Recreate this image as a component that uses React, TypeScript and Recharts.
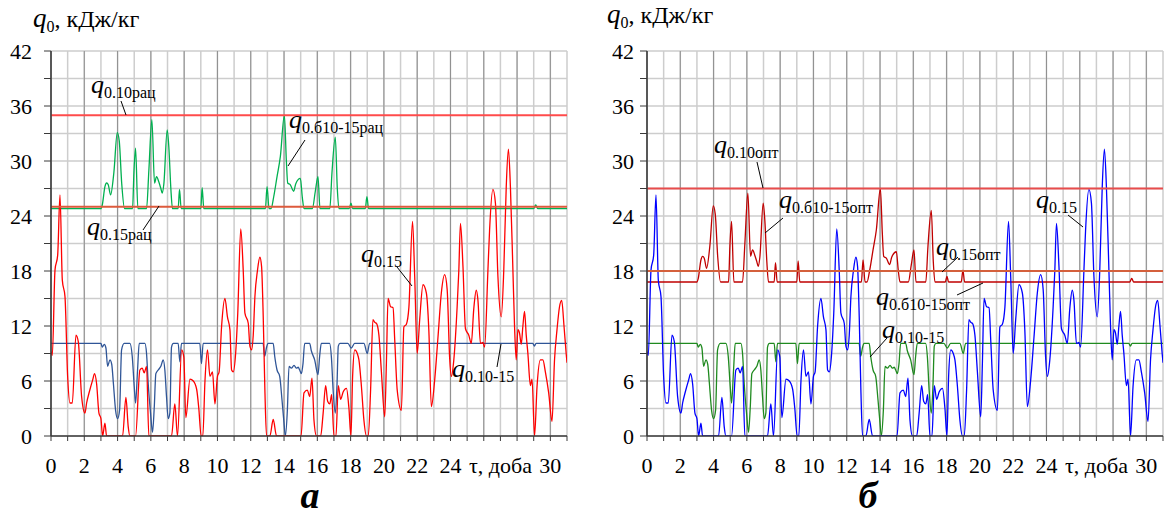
import React from 'react'
import { LineChart, Line, XAxis, YAxis, CartesianGrid, ReferenceLine } from 'recharts'

// доба (day) -> q0, кДж/кг ; точки
const dayTicks = [0, 1, 2, 3, 4, 5, 6, 7, 8, 9, 10, 11, 12, 13, 14, 15, 16, 17, 18, 19, 20, 21, 22, 23, 24, 25, 26, 27, 28, 29, 30, 31]
const evenDays = [0, 2, 4, 6, 8, 10, 12, 14, 16, 18, 20, 22, 24, 26, 28, 30]
const qTicks = [0, 3, 6, 9, 12, 15, 18, 21, 24, 27, 30, 33, 36, 39, 42]
const dayMax = 31

// q0.15 (same in both panels)
const q015: [number, number][] = [
  [0, 9.2], [0.08, 8.8], [0.24, 18.1], [0.4, 19.7], [0.54, 26.3], [0.68, 17], [0.84, 15.2], [1.0, 6.5], [1.14, 3.6],
  [1.28, 3.6], [1.5, 11], [1.64, 10.3], [1.84, 4.3], [2.04, 2.5], [2.14, 3.6], [2.3, 4.8], [2.5, 6.1], [2.62, 6.8],
  [2.74, 5.7], [2.88, 2.5], [3.0, 1.9], [3.1, 0], [3.24, 1.4], [3.34, 0], [4.3, 0], [4.5, 4.2], [4.64, 1], [4.74, 0],
  [5.08, 0], [5.34, 7.2], [5.48, 7.4], [5.6, 6.9], [5.74, 7.6], [5.88, 0], [7.24, 0], [7.44, 3.5], [7.6, 0],
  [7.85, 9.4], [7.98, 8.6], [8.1, 2], [8.35, 6.2], [8.55, 6], [8.75, 5.1], [8.88, 3], [9.02, 0], [9.12, 0],
  [9.25, 6], [9.4, 9.4], [9.55, 6.5], [9.7, 7], [9.85, 3.5], [10.0, 6.5], [10.1, 7], [10.25, 12], [10.45, 15],
  [10.6, 13], [10.75, 11.6], [10.85, 7.2], [10.95, 7], [11.1, 9.2], [11.22, 13.4], [11.4, 22.6], [11.55, 18],
  [11.65, 13.4], [11.85, 12.3], [11.95, 9.8], [12.05, 9.4], [12.15, 11], [12.25, 15.2], [12.4, 18], [12.55, 19.5],
  [12.65, 18.5], [12.75, 13], [12.85, 5], [12.95, 0], [13.15, 0], [13.35, 1.8], [13.55, 0], [15.02, 0], [15.2, 4.7],
  [15.4, 5], [15.54, 4.3], [15.68, 6.3], [15.8, 1.7], [15.95, 0], [16.2, 0], [16.35, 2.5], [16.5, 5.5], [16.62, 3.8],
  [16.75, 3.5], [16.86, 4.5], [17.0, 0], [17.12, 0], [17.26, 5.5], [17.4, 4], [17.55, 4.8], [17.75, 5.2], [17.9, 3],
  [18.02, 0], [18.12, 6.5], [18.25, 9.4], [18.4, 9], [18.5, 8.3], [18.65, 5.4], [18.8, 1.7], [18.95, 0], [19.06, 0],
  [19.2, 5], [19.34, 12.7], [19.45, 12.4], [19.55, 12.3], [19.7, 11], [19.85, 7], [20.05, 2.1], [20.15, 8],
  [20.25, 15], [20.4, 14.1], [20.55, 14], [20.65, 10.5], [20.8, 5], [21.05, 2.8], [21.2, 11.9], [21.35, 12.2],
  [21.5, 14], [21.72, 23.4], [21.85, 17.4], [22.0, 9], [22.15, 12.7], [22.35, 16.5], [22.55, 15.6], [22.7, 11.5],
  [22.85, 3.2], [23.05, 6.1], [23.25, 10.8], [23.45, 15.6], [23.65, 17.6], [23.8, 16], [23.95, 8.5], [24.05, 6.5],
  [24.2, 8.3], [24.4, 14.1], [24.5, 18], [24.6, 23.2], [24.75, 18.5], [24.9, 11.7], [25.1, 11], [25.25, 10.1],
  [25.4, 13.9], [25.55, 15.9], [25.65, 14.8], [25.8, 10.1], [25.95, 10.2], [26.05, 9.7], [26.25, 18.1], [26.35, 22.5],
  [26.55, 26.9], [26.7, 25.4], [26.85, 17.4], [27.05, 13], [27.2, 18], [27.35, 27.2], [27.48, 31.3], [27.6, 27.2],
  [27.75, 18.1], [27.85, 11.9], [27.95, 8.3], [28.05, 11.6], [28.15, 11.2], [28.25, 10], [28.35, 12], [28.45, 13.6],
  [28.55, 11], [28.65, 9], [28.8, 5.5], [28.9, 6.2], [29.05, 0], [29.2, 5.4], [29.4, 8.3], [29.55, 8.3], [29.7, 7],
  [29.9, 4.7], [30.1, 1.6], [30.25, 8.3], [30.4, 11.6], [30.55, 14.1], [30.68, 14.8], [30.82, 12], [30.95, 9], [31, 8]
]

// q0.10-15 (same in both panels)
const q01015: [number, number][] = [
  [0, 10.1], [3.0, 10.1], [3.08, 9.7], [3.2, 10], [3.3, 9.6], [3.4, 7.6], [3.54, 8.3], [3.65, 7.8], [3.75, 5.7],
  [3.88, 2.8], [4.0, 1.9], [4.12, 2.8], [4.24, 9.4], [4.4, 10.1], [4.74, 10.1], [4.88, 8.7], [5.0, 5.4], [5.08, 3.6],
  [5.2, 7.2], [5.3, 10.1], [5.64, 10.1], [5.74, 9], [5.84, 5.7], [5.98, 2.5], [6.1, 0.4], [6.2, 3], [6.3, 6.8],
  [6.44, 7.2], [6.6, 7.6], [6.74, 8.3], [6.84, 7.2], [6.94, 4.3], [7.04, 1.9], [7.14, 2.5], [7.24, 9.7], [7.35, 10.1],
  [7.64, 10.1], [7.74, 8.1], [7.84, 10.1], [8.94, 10.1], [9.04, 7.9], [9.14, 10.1], [12.74, 10.1], [12.84, 8.7],
  [12.94, 9.6], [13.04, 10.1], [13.35, 10.1], [13.44, 8.7], [13.58, 7.2], [13.74, 6.5], [13.88, 3.9], [14.0, 1.4],
  [14.08, 0], [14.2, 2.8], [14.3, 7.6], [14.44, 7.4], [14.6, 7.7], [14.75, 7.4], [14.85, 7.5], [14.94, 7.2],
  [15.04, 6.8], [15.14, 7.9], [15.24, 10.1], [15.54, 10.1], [15.64, 9.3], [15.84, 8.3], [16.04, 6.7], [16.14, 8.7],
  [16.24, 10.1], [16.74, 10.1], [16.85, 8.5], [16.95, 5], [17.08, 2.5], [17.18, 5.5], [17.26, 9.8], [17.36, 10.1],
  [17.84, 10.1], [18.04, 9.6], [18.24, 10.1], [18.8, 10.1], [19.0, 9], [19.14, 10.1], [28.95, 10.1], [29.04, 9.8],
  [29.14, 10.1], [31, 10.1]
]

// q0.б10-15рац
const q0b1015rac: [number, number][] = [
  [0, 24.8], [3.0, 24.8], [3.08, 25.2], [3.24, 27.2], [3.34, 27.6], [3.44, 27.4], [3.58, 26.3], [3.78, 28.8],
  [3.98, 33.1], [4.1, 32.2], [4.25, 27.5], [4.42, 24.8], [4.9, 24.8], [4.98, 28.7], [5.08, 31.4], [5.22, 24.8],
  [5.74, 24.8], [5.88, 29], [6.06, 34.5], [6.22, 27.6], [6.34, 28.3], [6.48, 27.7], [6.6, 27], [6.68, 26.5],
  [6.78, 27.5], [6.98, 33.4], [7.08, 31.5], [7.2, 27], [7.3, 24.8], [7.64, 24.8], [7.72, 26.9], [7.82, 24.8],
  [9.0, 24.8], [9.08, 27.1], [9.18, 24.8], [12.88, 24.8], [12.98, 27.2], [13.1, 24.8], [13.22, 24.8], [13.38, 26.1],
  [13.58, 28.3], [13.78, 30.5], [14.02, 35], [14.14, 30], [14.22, 27.6], [14.38, 27.4], [14.58, 26.7], [14.7, 27.5],
  [14.98, 28.1], [15.1, 26], [15.2, 24.8], [15.7, 24.8], [15.88, 26.7], [16.04, 28.3], [16.16, 24.8], [16.75, 24.8],
  [16.88, 28.7], [17.08, 32.6], [17.2, 27], [17.3, 24.8], [17.92, 24.8], [18.02, 25.4], [18.12, 24.8], [18.88, 24.8],
  [18.98, 26.1], [19.08, 24.8], [29.0, 24.8], [29.12, 25.2], [29.24, 24.8], [31, 24.8]
]

// q0.б10-15опт
const q0b1015opt: [number, number][] = [
  [0, 16.8], [3.0, 16.8], [3.08, 17.2], [3.24, 19.2], [3.34, 19.6], [3.44, 19.4], [3.58, 18.3], [3.78, 20.8],
  [3.98, 25.1], [4.1, 24.2], [4.25, 19.5], [4.42, 16.8], [4.9, 16.8], [4.98, 20.7], [5.08, 23.4], [5.22, 16.8],
  [5.74, 16.8], [5.88, 21], [6.06, 26.5], [6.22, 19.6], [6.34, 20.3], [6.48, 19.7], [6.6, 19], [6.68, 18.5],
  [6.78, 19.5], [6.98, 25.4], [7.08, 23.5], [7.2, 19], [7.3, 16.8], [7.64, 16.8], [7.72, 18.9], [7.82, 16.8],
  [9.0, 16.8], [9.08, 19.1], [9.18, 16.8], [12.88, 16.8], [12.98, 19.2], [13.1, 16.8], [13.22, 16.8], [13.38, 18.1],
  [13.58, 20.3], [13.78, 22.5], [14.02, 27], [14.14, 22], [14.22, 19.6], [14.38, 19.4], [14.58, 18.7], [14.7, 19.5],
  [14.98, 20.1], [15.1, 18], [15.2, 16.8], [15.7, 16.8], [15.88, 18.7], [16.04, 20.3], [16.16, 16.8], [16.75, 16.8],
  [16.88, 20.7], [17.08, 24.6], [17.2, 19], [17.3, 16.8], [17.92, 16.8], [18.02, 17.4], [18.12, 16.8], [18.88, 16.8],
  [18.98, 18.1], [19.08, 16.8], [29.0, 16.8], [29.12, 17.2], [29.24, 16.8], [31, 16.8]
]

const q010rac = 35
const q015rac = 25
const q010opt = 27
const q015opt = 18

const toPts = (arr: [number, number][]) => arr.map(([d, v]) => ({ d, v }))

const FONT = '"Liberation Serif", "Times New Roman", serif'

const xLabel = (d: number) => {
  if (d === 27) return 'τ, доба'
  if (d % 2 === 0 && d !== 26 && d !== 28 && d <= 30) return String(d)
  return ''
}
const yLabel = (v: number) => (v % 6 === 0 ? String(v) : '')

interface Series { data: [number, number][]; color: string; width?: number }
interface Ref { y: number; color: string }

function Panel({ left, width, rightMargin, yTickMargin, series, refs }: {
  left: number; width: number; rightMargin: number; yTickMargin: number; series: Series[]; refs: Ref[]
}) {
  return (
    <div style={{ position: 'absolute', left, top: 0 }}>
      <LineChart width={width} height={480} margin={{ top: 51, right: rightMargin, bottom: 14, left: 11 }}>
        <CartesianGrid stroke="#cdcdcd" strokeWidth={1.5} />
        <CartesianGrid
          stroke="#8f8f8f"
          strokeWidth={1}
          horizontal={false}
          verticalCoordinatesGenerator={({ offset }: any) =>
            offset ? evenDays.map(d => offset.left + (d / dayMax) * offset.width) : []}
        />
        <XAxis
          dataKey="d"
          type="number"
          domain={[0, dayMax]}
          ticks={dayTicks}
          interval={0}
          allowDataOverflow
          height={30}
          tickSize={5}
          tickMargin={16}
          tickFormatter={xLabel}
          tick={{ fontSize: 22, fill: '#000', fontFamily: FONT }}
          axisLine={{ stroke: '#3a3a3a', strokeWidth: 1.5 }}
          tickLine={{ stroke: '#3a3a3a' }}
        />
        <YAxis
          type="number"
          domain={[0, 42]}
          ticks={qTicks}
          interval={0}
          allowDataOverflow
          width={40}
          tickSize={7}
          tickMargin={yTickMargin}
          tickFormatter={yLabel}
          tick={{ fontSize: 22, fill: '#000', fontFamily: FONT }}
          axisLine={{ stroke: '#3a3a3a', strokeWidth: 1.5 }}
          tickLine={{ stroke: '#3a3a3a' }}
        />
        {series.map((s, i) => (
          <Line
            key={i}
            data={toPts(s.data)}
            dataKey="v"
            type="monotone"
            stroke={s.color}
            strokeWidth={s.width ?? 1.3}
            dot={false}
            activeDot={false}
            isAnimationActive={false}
          />
        ))}
        {refs.map((r, i) => (
          <ReferenceLine key={i} y={r.y} stroke={r.color} strokeWidth={2} />
        ))}
      </LineChart>
    </div>
  )
}

function QLabel({ x, y, sub, size = 26, subSize = 16 }: { x: number; y: number; sub: string; size?: number; subSize?: number }) {
  return (
    <text x={x} y={y} fontFamily={FONT} fill="#000">
      <tspan fontStyle="italic" fontSize={size}>q</tspan>
      <tspan fontSize={subSize} dy={5}>{sub}</tspan>
    </text>
  )
}

function AxisTitle({ x, y }: { x: number; y: number }) {
  return (
    <text x={x} y={y} fontFamily={FONT} fontSize={24} fill="#000">
      <tspan fontStyle="italic" fontSize={27}>q</tspan>
      <tspan fontSize={16} dy={5}>0</tspan>
      <tspan dy={-5}>, кДж/кг</tspan>
    </text>
  )
}

export default function App() {
  return (
    <div style={{ position: 'absolute', left: 0, top: 0, width: 1165, height: 527, background: '#fff', fontFamily: FONT }}>
      <Panel
        left={0}
        width={580}
        rightMargin={13}
        yTickMargin={12}
        series={[
          { data: q0b1015rac, color: '#00b050' },
          { data: q01015, color: '#2f5597' },
          { data: q015, color: '#ff0000' }
        ]}
        refs={[
          { y: q010rac, color: '#ff4b4b' },
          { y: q015rac, color: '#dd5a3c' }
        ]}
      />
      <Panel
        left={596}
        width={569}
        rightMargin={2}
        yTickMargin={6}
        series={[
          { data: q0b1015opt, color: '#c00000' },
          { data: q01015, color: '#1f8a1f' },
          { data: q015, color: '#0000ff' }
        ]}
        refs={[
          { y: q010opt, color: '#e84c4c' },
          { y: q015opt, color: '#d4603c' }
        ]}
      />
      <svg width={1165} height={527} style={{ position: 'absolute', left: 0, top: 0, pointerEvents: 'none' }}>
        <AxisTitle x={33} y={27} />
        <AxisTitle x={607} y={23} />

        {/* panel а */}
        <QLabel x={91} y={93} sub="0.10рац" />
        <line x1={121} y1={101} x2={126} y2={115} stroke="#000" />
        <QLabel x={289} y={128} sub="0.б10-15рац" />
        <line x1={305} y1={140} x2={288} y2={166} stroke="#000" />
        <QLabel x={87} y={235} sub="0.15рац" />
        <line x1={159} y1={206} x2={143} y2={230} stroke="#000" />
        <QLabel x={361} y={262} sub="0.15" />
        <line x1={397} y1={267} x2={412} y2={286} stroke="#000" />
        <QLabel x={452} y={377} sub="0.10-15" />
        <line x1={497} y1={367} x2={501} y2={344} stroke="#000" />

        {/* panel б */}
        <QLabel x={714} y={153} sub="0.10опт" />
        <line x1={757} y1={162} x2={763} y2={188} stroke="#000" />
        <QLabel x={779} y={208} sub="0.б10-15опт" />
        <line x1={783} y1={218} x2={765} y2={233} stroke="#000" />
        <QLabel x={936} y={255} sub="0.15опт" />
        <line x1={958} y1={257} x2={942} y2={272} stroke="#000" />
        <QLabel x={876} y={305} sub="0.б10-15опт" />
        <line x1={957} y1={295} x2={983} y2={283} stroke="#000" />
        <QLabel x={882} y={338} sub="0.10-15" />
        <line x1={887} y1={338} x2={870} y2={357} stroke="#000" />
        <QLabel x={1036} y={208} sub="0.15" />
        <line x1={1068} y1={215} x2={1083} y2={227} stroke="#000" />

        <text x={310} y={508} textAnchor="middle" fontFamily={FONT} fontSize={38} fontWeight="bold" fontStyle="italic" fill="#000">а</text>
        <text x={868} y={508} textAnchor="middle" fontFamily={FONT} fontSize={38} fontWeight="bold" fontStyle="italic" fill="#000">б</text>
      </svg>
    </div>
  )
}
